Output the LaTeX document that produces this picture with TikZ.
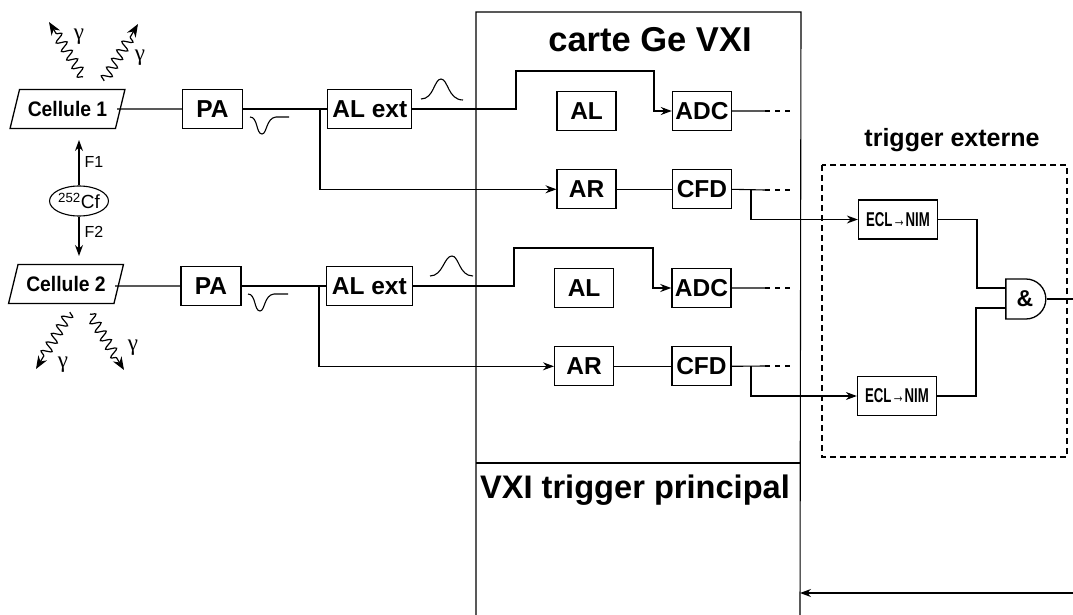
\documentclass[tikz,border=0pt]{standalone}
\usepackage{fontspec}
\setmainfont{Liberation Sans}
\newfontfamily\narrowsf[FakeStretch=0.66]{Liberation Sans}
\newfontfamily\cellsf[FakeStretch=0.92]{Liberation Sans}
\newfontfamily\serifgam{Liberation Serif}
\usetikzlibrary{positioning, arrows.meta, decorations.pathmorphing, shapes.geometric, shapes.misc}

\begin{document}
\begin{tikzpicture}[x=1pt, y=-1pt, >={Stealth[length=11pt,width=8pt]}, line width=1.1pt,
    blockbox/.style={draw, rectangle, inner sep=0pt, line width=1.3pt, minimum height=39pt, minimum width=59pt, font=\fontsize{24.5}{26}\bfseries},
    cellbox/.style={draw, trapezium, trapezium left angle=63, trapezium right angle=117, trapezium stretches=true, inner sep=0pt, line width=1.3pt, minimum height=39pt, minimum width=115pt, font=\cellsf\fontsize{21}{23}\bfseries},
    eclbox/.style={draw, rectangle, inner sep=0pt, line width=1.3pt, minimum height=39pt, minimum width=79pt, font=\narrowsf\fontsize{20}{22}\bfseries},
    gamtxt/.style={font=\serifgam\fontsize{23}{25}\selectfont},
    photon/.style={decorate, decoration={snake, amplitude=5pt, segment length=10pt, post length=13pt}, line width=1.2pt, >={Stealth[length=13pt,width=10pt]}},
    fistxt/.style={font=\fontsize{16}{18}\selectfont}]
    \useasboundingbox (0,0) rectangle (1073,615);

    % VXI cards
    \draw (476,615) -- (476,12) -- (801,12) -- (800,615);
    \draw (476,463) -- (800,463);
    \node (gecard) at (650,40) {\fontsize{34.5}{36}\bfseries carte Ge VXI};
    \node (vxitrig) at (635,490) {\fontsize{32.6}{34}\bfseries VXI trigger principal};

    % Source and cells
    \node (cellone) [cellbox] at (67.5,109) {Cellule 1};
    \node (celltwo) [cellbox] at (66,284) {Cellule 2};
    \node (source) [draw, ellipse, inner sep=0pt, minimum width=50pt, minimum height=30pt, font=\fontsize{19}{21}\selectfont] at (79,201) {\textsuperscript{252}Cf};
    \coordinate (toone) at (79,140);
    \coordinate (totwo) at (79,256);
    \draw[->] (source) -- (toone);
    \draw[->] (source) -- (totwo);
    \node (fone) [fistxt] at (94,162) {F1};
    \node (ftwo) [fistxt] at (94,232) {F2};

    % First chain
    \node (paone) [blockbox, right=61pt of cellone.east, minimum width=60pt] {PA};
    \node (alextone) [blockbox, right=84pt of paone, minimum width=84pt] {AL ext};
    \node (alone) [blockbox, right=144pt of alextone, yshift=-2pt] {AL};
    \node (adcone) [blockbox, right=55pt of alone] {ADC};
    \node (arone) [blockbox, below=38pt of alone] {AR};
    \node (cfdone) [blockbox, below=38pt of adcone] {CFD};
    \node (eclone) [eclbox] at (898,219.5) {ECL→NIM};

    % Second chain
    \node (patwo) [blockbox, right=61pt of celltwo.east, yshift=-2pt, minimum width=60pt] {PA};
    \node (alexttwo) [blockbox, right=84pt of patwo, minimum width=86pt] {AL ext};
    \node (altwo) [blockbox, right=141pt of alexttwo, yshift=-2pt] {AL};
    \node (adctwo) [blockbox, right=57pt of altwo] {ADC};
    \node (artwo) [blockbox, below=38pt of altwo] {AR};
    \node (cfdtwo) [blockbox, below=38pt of adctwo] {CFD};
    \node (ecltwo) [eclbox] at (897,396) {ECL→NIM};

    % Gate
    \node (andgate) [draw, rounded rectangle, rounded rectangle west arc=none, inner sep=0pt, line width=1.3pt, minimum width=40pt, minimum height=40pt, font=\fontsize{23}{25}\bfseries] at (1025,299) {\&};

    \coordinate (cutone) at (117,109);
    \coordinate (riseone) at (516,71);
    \coordinate (dropone) at (654,71);
    \coordinate (tapone) at (320,109);
    \coordinate (tapcfdone) at (751,190);
    \coordinate (endadcone) at (765,111);
    \coordinate (dotadcone) at (792,111);
    \coordinate (endcfdone) at (765,190);
    \coordinate (dotcfdone) at (792,190);
    \draw (cutone) -- (paone.west);
    \draw (paone.east) -- (alextone.west);
    \draw[->] (alextone.east) -| (riseone) -- (dropone) |- (adcone.west);
    \draw[->] (tapone) |- (arone.west);
    \draw (arone.east) -- (cfdone.west);
    \draw (adcone.east) -- (endadcone);
    \draw[dash pattern=on 5pt off 5pt] (endadcone) -- (dotadcone);
    \draw (cfdone.east) -- (endcfdone);
    \draw[dash pattern=on 5pt off 5pt] (endcfdone) -- (dotcfdone);
    \draw[->] (tapcfdone) |- (eclone.west);

    \coordinate (cuttwo) at (115,286);
    \coordinate (risetwo) at (514,248);
    \coordinate (droptwo) at (653,248);
    \coordinate (taptwo) at (319,286);
    \coordinate (tapcfdtwo) at (751,366);
    \coordinate (endadctwo) at (765,288);
    \coordinate (dotadctwo) at (792,288);
    \coordinate (endcfdtwo) at (765,366);
    \coordinate (dotcfdtwo) at (792,366);
    \draw (cuttwo) -- (patwo.west);
    \draw (patwo.east) -- (alexttwo.west);
    \draw[->] (alexttwo.east) -| (risetwo) -- (droptwo) |- (adctwo.west);
    \draw[->] (taptwo) |- (artwo.west);
    \draw (artwo.east) -- (cfdtwo.west);
    \draw (adctwo.east) -- (endadctwo);
    \draw[dash pattern=on 5pt off 5pt] (endadctwo) -- (dotadctwo);
    \draw (cfdtwo.east) -- (endcfdtwo);
    \draw[dash pattern=on 5pt off 5pt] (endcfdtwo) -- (dotcfdtwo);
    \draw[->] (tapcfdtwo) |- (ecltwo.west);

    % Trigger part
    \draw[dash pattern=on 6pt off 4pt] (822,165) rectangle (1067,457);
    \node (trigext) at (952,140) {\fontsize{25}{27}\bfseries trigger externe};
    \coordinate (bendone) at (977,288);
    \coordinate (bendtwo) at (976,308);
    \coordinate (andout) at (1073,299);
    \coordinate (trigout) at (1073,593);
    \coordinate (vxiin) at (800,593);
    \draw (eclone.east) -| (bendone) -- (bendone -| andgate.west);
    \draw (ecltwo.east) -| (bendtwo) -- (bendtwo -| andgate.west);
    \draw (andgate.east) -- (andout);
    \draw[->] (trigout) -- (vxiin);

    % Gammas
    \coordinate (gstarta) at (83,77);
    \coordinate (gstartb) at (104,81);
    \coordinate (gstartc) at (70,312);
    \coordinate (gstartd) at (90,314);
    \coordinate (genda) at (49,22);
    \coordinate (gendb) at (138,24);
    \coordinate (gendc) at (36,369);
    \coordinate (gendd) at (124,370);
    \draw[photon, ->] (gstarta) -- (genda);
    \draw[photon, ->] (gstartb) -- (gendb);
    \draw[photon, ->] (gstartc) -- (gendc);
    \draw[photon, ->] (gstartd) -- (gendd);
    \node (gama) [gamtxt] at (79,37) {γ};
    \node (gamb) [gamtxt] at (140,58) {γ};
    \node (gamc) [gamtxt] at (63,365) {γ};
    \node (gamd) [gamtxt] at (133,348) {γ};

    % Pulses
    \draw (421,99) .. controls (434,99) and (434,79) .. (441,79) .. controls (448,79) and (448,100) .. (463,100);
    \draw (430,276) .. controls (443,276) and (444,256) .. (452,256) .. controls (459,256) and (459,276) .. (473,276);
    \draw (250,117) .. controls (258,117) and (256,134) .. (262,134) .. controls (267,134) and (266,118) .. (276,117) -- (289,117);
    \draw (248,294) .. controls (256,294) and (254,311) .. (260,311) .. controls (265,311) and (264,295) .. (274,294) -- (288,294);

\end{tikzpicture}
\end{document}
